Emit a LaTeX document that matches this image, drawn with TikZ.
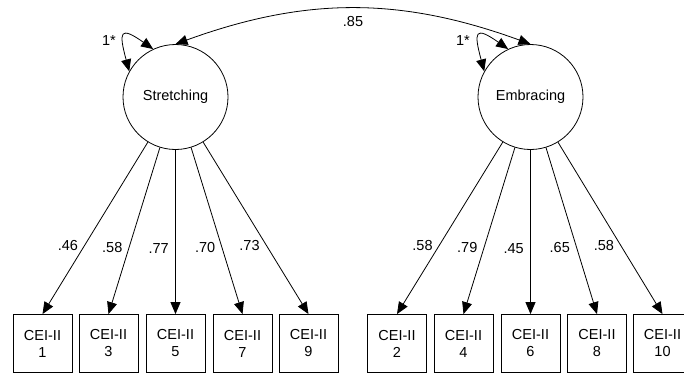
\documentclass[tikz,border=0pt]{standalone}
\usepackage{fontspec}
\setmainfont{Liberation Sans}
\usetikzlibrary{arrows.meta}

\begin{document}
\begin{tikzpicture}[x=1pt,y=1pt,font=\fontsize{14.5}{17}\selectfont,
        line width=0.8pt,>={Triangle[length=12pt,width=10pt]},
        factor/.style={shape=circle,draw=black,minimum size=105pt,inner sep=0pt},
        item/.style={shape=rectangle,draw=black,minimum width=59pt,minimum height=58pt,inner sep=0pt,align=center},
        load/.style={left=3pt,pos=0.6}]
        \useasboundingbox (0,0) rectangle (684,376);

        \node[factor] (S) at (175.5,279) {Stretching};
        \node[factor] (E) at (530.5,279) {Embracing};

        \node[item] (c1) at (42.5,32.5)  {CEI-II\\1};
        \node[item] (c3) at (108.5,32.5) {CEI-II\\3};
        \node[item] (c5) at (175.5,32.5) {CEI-II\\5};
        \node[item] (c7) at (242.5,32.5) {CEI-II\\7};
        \node[item] (c9) at (308.5,32.5) {CEI-II\\9};
        \node[item] (c2) at (397,32.5)   {CEI-II\\2};
        \node[item] (c4) at (463.5,32.5) {CEI-II\\4};
        \node[item] (c6) at (530.5,32.5) {CEI-II\\6};
        \node[item] (c8) at (597,32.5)   {CEI-II\\8};
        \node[item] (c10) at (662.5,32.5) {CEI-II\\10};

        \node (vs) at (109,335) {1*};
        \node (ve) at (463,335) {1*};

	\path[->] (S) edge node[load]{.46} (c1.north);
	\path[->] (S) edge node[load]{.58} (c3.north);
	\path[->] (S) edge node[load]{.77} (c5.north);
	\path[->] (S) edge node[load]{.70} (c7.north);
	\path[->] (S) edge node[load]{.73} (c9.north);
	\path[->] (E) edge node[load]{.58} (c2.north);
	\path[->] (E) edge node[load]{.79} (c4.north);
	\path[->] (E) edge node[load]{.45} (c6.north);
	\path[->] (E) edge node[load]{.65} (c8.north);
	\path[->] (E) edge node[load]{.58} (c10.north);

	\path[<->] (S.115) edge[out=145,in=105,looseness=3.2] (S.151);
	\path[<->] (E.115) edge[out=145,in=105,looseness=3.2] (E.151);
	\path[<->] (S.north) edge[bend left=20] node[below=4pt]{.85} (E.north);
\end{tikzpicture}
\end{document}
